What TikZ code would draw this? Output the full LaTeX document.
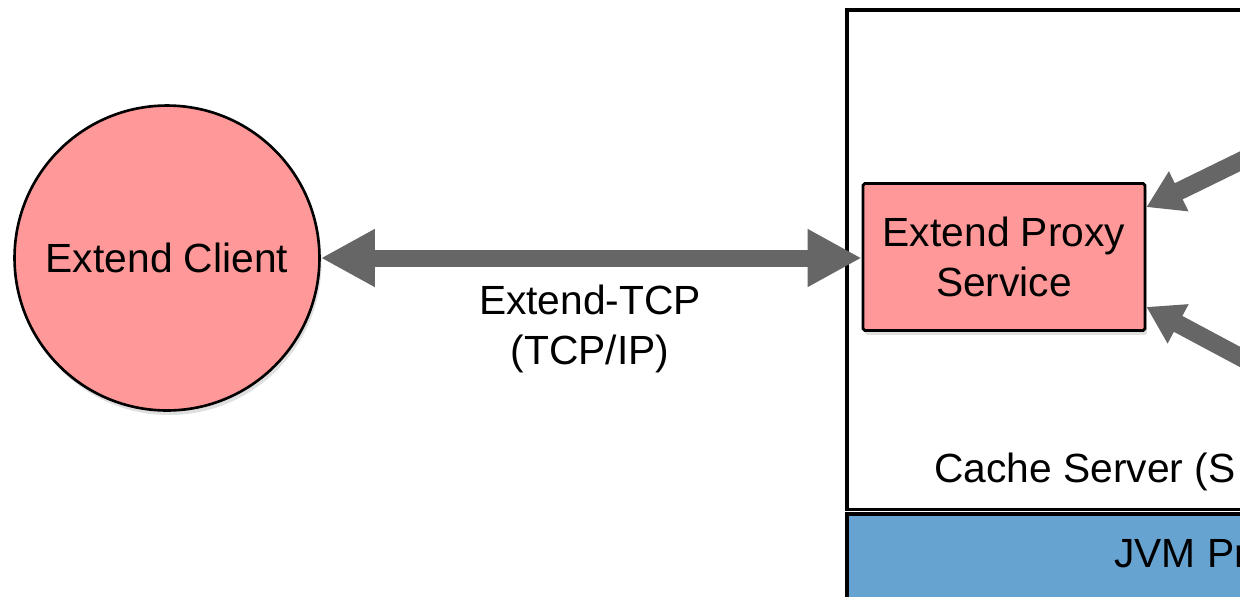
\documentclass[tikz,border=0pt]{standalone}
\usepackage{fontspec}
\setmainfont{Liberation Sans}
\usetikzlibrary{arrows.meta,shadows,calc}
\definecolor{pinkfill}{RGB}{255,153,153}
\definecolor{bluefill}{RGB}{102,163,208}
\definecolor{arrowgray}{RGB}{102,102,102}
\begin{document}
\begin{tikzpicture}[x=0.02cm,y=-0.02cm,
  lbl/.style={font=\fontsize{23.2}{28.5}\selectfont, align=center, text=black},
  shade/.style={drop shadow={opacity=0.25,shadow xshift=0.04cm,shadow yshift=-0.09cm}},
  clientnode/.style={circle, draw=black, line width=1.5pt, fill=pinkfill, minimum size=6.1cm, inner sep=0pt, shade, lbl},
  proxynode/.style={rectangle, draw=black, line width=1.6pt, fill=pinkfill, minimum width=5.64cm, minimum height=2.94cm, shade, lbl, rounded corners=1pt},
  framenode/.style={rectangle, draw=black, line width=2pt, anchor=north west, inner sep=0pt},
  bigarrow/.style={draw=arrowgray, line width=0.34cm, {Triangle[length=1.08cm,width=1.08cm]}-{Triangle[length=1.08cm,width=1.08cm]}},
  sidearrow/.style={draw=arrowgray, line width=0.36cm, -{Triangle[length=0.72cm,width=0.84cm]}},
]
\useasboundingbox (0,0) rectangle (1240,596);
\clip (0,0) rectangle (1240,596);
\fill[white] (0,0) rectangle (1240,596);

% containers
\node[framenode, fill=white, minimum width=9.1cm, minimum height=10cm] (cache) at (845,8) {};
\node[framenode, fill=bluefill, minimum width=9.1cm, minimum height=1.8cm] (jvm) at (845,512) {};
\node[lbl, anchor=base west] (cachelbl) at (928,482) {Cache Server (S};
\node[lbl, anchor=base west] (jvmlbl) at (1108,567) {JVM Pr};

% main nodes
\node[clientnode] (client) at (167,258) {Extend Client};
\node[proxynode] (proxy) at (1004,257) {Extend Proxy\\Service};

% connectors
\draw[bigarrow] (client.east) -- (client.east -| proxy.west);
\node[lbl] (tcp) at (590,329) {Extend-TCP\\(TCP/IP)};

\coordinate (u0) at (1300,132);
\coordinate (l0) at (1300,389);
\draw[sidearrow] (u0) -- ([yshift=-0.5cm]proxy.north east);
\draw[sidearrow] (l0) -- ([yshift=0.5cm]proxy.south east);
\end{tikzpicture}
\end{document}
